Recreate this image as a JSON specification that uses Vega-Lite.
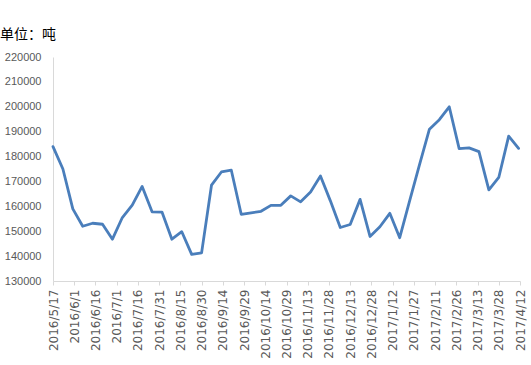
{
  "$schema": "https://vega.github.io/schema/vega-lite/v6.json",
  "autosize": "none",
  "width": 467,
  "height": 224,
  "padding": {"left": 53, "top": 57, "right": 11, "bottom": 84},
  "background": "white",
  "config": {"view": {"stroke": null}},
  "title": {"text": "单位：吨", "anchor": "start", "frame": "group", "dx": -53, "offset": 9, "font": "Noto Sans CJK SC", "fontSize": 14, "fontWeight": "normal", "color": "#000000"},
  "data": {"values": [
    {"date": "2016-05-17", "v": 184000},
    {"date": "2016-05-24", "v": 175000},
    {"date": "2016-05-31", "v": 159000},
    {"date": "2016-06-07", "v": 152000},
    {"date": "2016-06-14", "v": 153200},
    {"date": "2016-06-21", "v": 152800},
    {"date": "2016-06-28", "v": 146800},
    {"date": "2016-07-05", "v": 155500},
    {"date": "2016-07-12", "v": 160500},
    {"date": "2016-07-19", "v": 168000},
    {"date": "2016-07-26", "v": 157800},
    {"date": "2016-08-02", "v": 157700},
    {"date": "2016-08-09", "v": 146800},
    {"date": "2016-08-16", "v": 149800},
    {"date": "2016-08-23", "v": 140700},
    {"date": "2016-08-30", "v": 141300},
    {"date": "2016-09-06", "v": 168500},
    {"date": "2016-09-13", "v": 173800},
    {"date": "2016-09-20", "v": 174500},
    {"date": "2016-09-27", "v": 156800},
    {"date": "2016-10-04", "v": 157400},
    {"date": "2016-10-11", "v": 158000},
    {"date": "2016-10-18", "v": 160400},
    {"date": "2016-10-25", "v": 160400},
    {"date": "2016-11-01", "v": 164200},
    {"date": "2016-11-08", "v": 161800},
    {"date": "2016-11-15", "v": 165800},
    {"date": "2016-11-22", "v": 172200},
    {"date": "2016-11-29", "v": 162200},
    {"date": "2016-12-06", "v": 151500},
    {"date": "2016-12-13", "v": 152700},
    {"date": "2016-12-20", "v": 162800},
    {"date": "2016-12-27", "v": 147900},
    {"date": "2017-01-03", "v": 151800},
    {"date": "2017-01-10", "v": 157200},
    {"date": "2017-01-17", "v": 147400},
    {"date": "2017-01-24", "v": 162200},
    {"date": "2017-01-31", "v": 176800},
    {"date": "2017-02-07", "v": 191000},
    {"date": "2017-02-14", "v": 194800},
    {"date": "2017-02-21", "v": 200000},
    {"date": "2017-02-28", "v": 183200},
    {"date": "2017-03-07", "v": 183500},
    {"date": "2017-03-14", "v": 182000},
    {"date": "2017-03-21", "v": 166600},
    {"date": "2017-03-28", "v": 171600},
    {"date": "2017-04-04", "v": 188200},
    {"date": "2017-04-11", "v": 183300}
  ]},
  "mark": {"type": "line", "color": "#4a7ebb", "strokeWidth": 2.8, "strokeJoin": "round", "strokeCap": "round"},
  "encoding": {
    "x": {
      "field": "date", "type": "temporal",
      "scale": {"type": "utc", "domain": [{"year": 2016, "month": 5, "date": 17, "utc": true}, {"year": 2017, "month": 4, "date": 12, "utc": true}]},
      "axis": {
        "title": null, "grid": false, "format": "%Y/%-m/%-d", "labelAngle": 270,
        "labelOverlap": false, "labelFlush": false, "labelBound": false,
        "labelFont": "DejaVu Sans", "labelFontSize": 12, "labelColor": "#595959", "labelPadding": 4,
        "domainColor": "#d9d9d9", "tickColor": "#d9d9d9", "tickSize": 4,
        "values": [
          {"year": 2016, "month": 5, "date": 17, "utc": true},
          {"year": 2016, "month": 6, "date": 1, "utc": true},
          {"year": 2016, "month": 6, "date": 16, "utc": true},
          {"year": 2016, "month": 7, "date": 1, "utc": true},
          {"year": 2016, "month": 7, "date": 16, "utc": true},
          {"year": 2016, "month": 7, "date": 31, "utc": true},
          {"year": 2016, "month": 8, "date": 15, "utc": true},
          {"year": 2016, "month": 8, "date": 30, "utc": true},
          {"year": 2016, "month": 9, "date": 14, "utc": true},
          {"year": 2016, "month": 9, "date": 29, "utc": true},
          {"year": 2016, "month": 10, "date": 14, "utc": true},
          {"year": 2016, "month": 10, "date": 29, "utc": true},
          {"year": 2016, "month": 11, "date": 13, "utc": true},
          {"year": 2016, "month": 11, "date": 28, "utc": true},
          {"year": 2016, "month": 12, "date": 13, "utc": true},
          {"year": 2016, "month": 12, "date": 28, "utc": true},
          {"year": 2017, "month": 1, "date": 12, "utc": true},
          {"year": 2017, "month": 1, "date": 27, "utc": true},
          {"year": 2017, "month": 2, "date": 11, "utc": true},
          {"year": 2017, "month": 2, "date": 26, "utc": true},
          {"year": 2017, "month": 3, "date": 13, "utc": true},
          {"year": 2017, "month": 3, "date": 28, "utc": true},
          {"year": 2017, "month": 4, "date": 12, "utc": true}
        ]
      }
    },
    "y": {
      "field": "v", "type": "quantitative",
      "scale": {"domain": [130000, 220000], "nice": false, "zero": false},
      "axis": {
        "title": null, "grid": false, "ticks": false, "format": "d",
        "values": [130000, 140000, 150000, 160000, 170000, 180000, 190000, 200000, 210000, 220000],
        "labelFont": "Liberation Sans", "labelFontSize": 11, "labelColor": "#595959", "labelPadding": 12,
        "domainColor": "#d9d9d9"
      }
    }
  }
}
